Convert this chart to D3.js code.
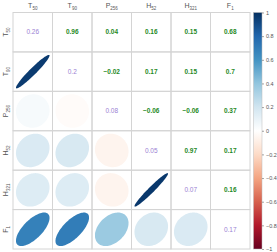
<!DOCTYPE html>
<html>
<head>
<meta charset="utf-8">
<script src="https://cdn.jsdelivr.net/npm/d3@7"></script>
<style>
  body { margin: 0; background: #fff; }
  text { font-family: "Liberation Sans", Arial, sans-serif; }
</style>
</head>
<body>
<main></main>
<script>
// variable names: base letter + subscript
var varBase = ["T", "T", "P", "H", "H", "F"];
var varSub = ["50", "90", "256", "52", "321", "1"];

// correlation matrix (lower = upper, symmetric)
var corr = [
  [1, 0.96, 0.04, 0.16, 0.15, 0.68],
  [0.96, 1, -0.02, 0.17, 0.15, 0.7],
  [0.04, -0.02, 1, -0.06, -0.06, 0.37],
  [0.16, 0.17, -0.06, 1, 0.97, 0.17],
  [0.15, 0.15, -0.06, 0.97, 1, 0.16],
  [0.68, 0.7, 0.37, 0.17, 0.16, 1]
];
// values printed on the diagonal
var diagValues = [0.26, 0.2, 0.08, 0.05, 0.07, 0.17];

var paletteStops = ["#67001F", "#B2182B", "#D6604D", "#F4A582", "#FDDBC7", "#FFFFFF",
                    "#D1E5F0", "#92C5DE", "#4393C3", "#2166AC", "#053061"];
var barTicks = [1, 0.8, 0.6, 0.4, 0.2, 0, -0.2, -0.4, -0.6, -0.8, -1];

var width = 277, height = 252;
var idx = d3.range(varBase.length);

var svg = d3.select("main")
    .append("svg")
    .attr("width", width)
    .attr("height", height);

var x = d3.scaleBand().domain(idx).range([13, 250]);
var y = d3.scaleBand().domain(idx).range([12.5, 249]);

var color = d3.scaleLinear()
    .domain(d3.range(paletteStops.length).map(function (i) { return -1 + 2 * i / (paletteStops.length - 1); }))
    .range(paletteStops)
    .interpolate(d3.interpolateRgb);

var fmt = d3.format("");
function numText(v) { return fmt(Math.round(v * 100) / 100); }

// grid cells
var cells = [];
idx.forEach(function (r) { idx.forEach(function (c) { cells.push({ r: r, c: c }); }); });

var grid = svg.append("g").attr("id", "grid");
grid.selectAll("rect")
    .data(cells)
    .enter()
    .append("rect")
    .attr("x", function (d) { return x(d.c); })
    .attr("y", function (d) { return y(d.r); })
    .attr("width", x.bandwidth())
    .attr("height", y.bandwidth())
    .attr("fill", "none")
    .attr("stroke", "#d4d4d4")
    .attr("stroke-width", 1);

// ellipses in lower triangle
function ellipsePath(d) {
  var rho = corr[d.r][d.c];
  var a = Math.acos(rho) / 2;
  var cx = x(d.c) + x.bandwidth() / 2, cy = y(d.r) + y.bandwidth() / 2;
  var sx = 0.85 * x.bandwidth() / 2, sy = 0.85 * y.bandwidth() / 2;
  var pts = d3.range(100).map(function (i) {
    var k = 2 * Math.PI * i / 99;
    return [cx + sx * Math.cos(k + a), cy - sy * Math.cos(k - a)];
  });
  return d3.line()(pts) + "Z";
}

var lower = cells.filter(function (d) { return d.r > d.c; });
svg.append("g").attr("id", "ellipses")
    .selectAll("path")
    .data(lower)
    .enter()
    .append("path")
    .attr("d", ellipsePath)
    .attr("fill", function (d) { return color(corr[d.r][d.c]); });

// numbers in upper triangle + diagonal
var upper = cells.filter(function (d) { return d.r <= d.c; });
svg.append("g").attr("id", "numbers")
    .selectAll("text")
    .data(upper)
    .enter()
    .append("text")
    .attr("x", function (d) { return x(d.c) + x.bandwidth() / 2; })
    .attr("y", function (d) { return y(d.r) + y.bandwidth() / 2; })
    .attr("dy", "0.35em")
    .attr("text-anchor", "middle")
    .attr("font-size", 6.5)
    .attr("font-weight", function (d) { return d.r === d.c ? "normal" : "bold"; })
    .attr("fill", function (d) { return d.r === d.c ? "#9b7fd4" : "#1f8a1f"; })
    .text(function (d) { return numText(d.r === d.c ? diagValues[d.r] : corr[d.r][d.c]); });

// column labels
function addLabel(sel) {
  sel.append("tspan").text(function (i) { return varBase[i]; });
  sel.append("tspan")
      .attr("font-size", 4.5)
      .attr("dy", 1.8)
      .text(function (i) { return varSub[i]; });
}

svg.append("g").attr("id", "col-labels")
    .selectAll("text")
    .data(idx)
    .enter()
    .append("text")
    .attr("x", function (i) { return x(i) + x.bandwidth() / 2; })
    .attr("y", 8)
    .attr("text-anchor", "middle")
    .attr("font-size", 7)
    .attr("fill", "#555")
    .call(addLabel);

svg.append("g").attr("id", "row-labels")
    .selectAll("text")
    .data(idx)
    .enter()
    .append("text")
    .attr("transform", function (i) { return "translate(8," + (y(i) + y.bandwidth() / 2) + ") rotate(-90)"; })
    .attr("text-anchor", "middle")
    .attr("font-size", 7)
    .attr("fill", "#555")
    .call(addLabel);

// colour bar
var barX = 253.5, barW = 8.5;
var yBar = d3.scaleLinear().domain([-1, 1]).range([249, 12.5]);

var grad = svg.append("defs").append("linearGradient")
    .attr("id", "bar-grad")
    .attr("x1", 0).attr("y1", 1).attr("x2", 0).attr("y2", 0);
grad.selectAll("stop")
    .data(paletteStops)
    .enter()
    .append("stop")
    .attr("offset", function (d, i) { return i / (paletteStops.length - 1); })
    .attr("stop-color", function (d) { return d; });

svg.append("rect")
    .attr("x", barX)
    .attr("y", yBar(1))
    .attr("width", barW)
    .attr("height", yBar(-1) - yBar(1))
    .attr("fill", "url(#bar-grad)")
    .attr("stroke", "#bbb")
    .attr("stroke-width", 0.5);

var barAxis = svg.append("g")
    .attr("transform", "translate(" + (barX + barW) + ",0)")
    .call(d3.axisRight(yBar).tickValues(barTicks).tickSize(2).tickPadding(2).tickFormat(d3.format("")));
barAxis.select(".domain").remove();
barAxis.selectAll("line").attr("stroke", "#666").attr("stroke-width", 0.6);
barAxis.selectAll("text")
    .attr("font-size", 5.5)
    .attr("fill", "#555")
    .attr("font-family", "Liberation Sans, Arial, sans-serif");
</script>
</body>
</html>
